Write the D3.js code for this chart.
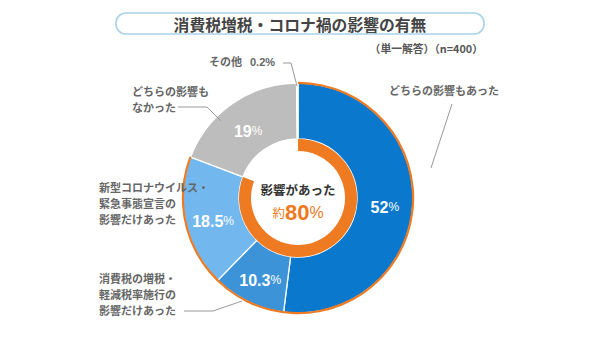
<!DOCTYPE html>
<html><head><meta charset="utf-8">
<script src="https://cdn.jsdelivr.net/npm/d3@7"></script>
<style>body{margin:0;background:#fff}svg{display:block;font-family:"Noto Sans CJK JP","Noto Sans",sans-serif}</style>
</head><body>
<svg id="c" width="600" height="343"></svg>
<script>
const title = "消費税増税・コロナ禍の影響の有無";
const note = "（単一解答）（n=400）";
const categories = ["どちらの影響もあった","消費税の増税・軽減税率施行の影響だけあった","新型コロナウイルス・緊急事態宣言の影響だけあった","どちらの影響もなかった","その他"];
const values = [52, 10.3, 18.5, 19, 0.2];
const valueLabels = ["52","10.3","18.5","19",""];
const centerLabel = "影響があった";
const centerValue = "80";
const colors = ["#0a78cc","#3d93d8","#72b8ef","#bdbdbd","#e4e4e4"];
const affected = [true,true,true,false,false];

const NUMF = "'Liberation Sans', Arial, sans-serif";
const svg = d3.select("#c");
const cx = 298, cy = 198, R = 115, r0 = 59;

// title box
svg.append("rect").attr("x",116).attr("y",13).attr("width",368).attr("height",21).attr("rx",10)
  .attr("fill","#fff").attr("stroke","#a9d3ec").attr("stroke-width",1.6);
svg.append("text").attr("x",300).attr("y",24).attr("text-anchor","middle").attr("dominant-baseline","central")
  .attr("font-size",15.8).attr("font-weight","bold").attr("fill","#444").text(title);
svg.append("text").attr("x",483).attr("y",48).attr("text-anchor","end").attr("dominant-baseline","central")
  .attr("font-size",10.8).attr("font-weight","bold").attr("fill","#555").text(note);

const pie = d3.pie().sort(null).value(d=>d)(values);
const g = svg.append("g").attr("transform",`translate(${cx},${cy})`);
const arc = d3.arc().innerRadius(r0).outerRadius(R);
g.selectAll("path.s").data(pie).join("path").attr("class","s").attr("d",arc)
  .attr("fill",(d,i)=>colors[i]).attr("stroke","#fff").attr("stroke-width",1.3);

// orange outer stroke and inner ring over "affected" share
const affEnd = d3.max(pie.filter((d,i)=>affected[i]), d=>d.endAngle);
g.append("path").attr("d", d3.arc().innerRadius(R-1).outerRadius(R+1.2).startAngle(0).endAngle(affEnd)())
  .attr("fill","#ee7a22");
g.append("path").attr("d", d3.arc().innerRadius(47).outerRadius(r0).startAngle(0).endAngle(affEnd)())
  .attr("fill","#ee7a22");

// value labels
const cArc = d3.arc().innerRadius(87).outerRadius(87);
pie.forEach((d,i)=>{
  if(!valueLabels[i]) return;
  const [x,y] = cArc.centroid(d);
  const t = g.append("text").attr("x",x).attr("y",y+4).attr("text-anchor","middle").attr("dominant-baseline","central")
    .attr("fill","#fff").attr("font-weight","bold").style("font-family",NUMF);
  t.append("tspan").attr("font-size",16).text(valueLabels[i]);
  t.append("tspan").attr("font-size",12).attr("font-weight","normal").text("%");
});

// center
g.append("text").attr("x",0).attr("y",-9).attr("text-anchor","middle").attr("dominant-baseline","central")
  .attr("font-size",12.5).attr("font-weight","bold").attr("fill","#333").text(centerLabel);
const ct = g.append("text").attr("x",0).attr("y",14).attr("text-anchor","middle").attr("dominant-baseline","central")
  .attr("fill","#ee7a22").attr("font-weight","bold");
ct.append("tspan").attr("font-size",12.5).attr("font-weight","normal").text("約");
ct.append("tspan").attr("font-size",22).style("font-family",NUMF).text(centerValue);
ct.append("tspan").attr("font-size",16).style("font-family",NUMF).attr("font-weight","normal").text("%");

// outside labels
const lab = (lines, x, y, anchor) => {
  const t = svg.append("text").attr("font-size",11).attr("font-weight","bold").attr("fill","#666").attr("text-anchor",anchor||"start");
  lines.forEach((s,k)=>t.append("tspan").attr("x",x).attr("y",y+k*16).text(s));
};
lab([categories[0]], 389, 95);
lab(["どちらの影響も","なかった"], 132, 96);
lab(["新型コロナウイルス・","緊急事態宣言の","影響だけあった"], 99, 192);
lab(["消費税の増税・","軽減税率施行の","影響だけあった"], 99, 283);
const o = svg.append("text").attr("x",209).attr("y",66).attr("font-size",11).attr("font-weight","bold").attr("fill","#666");
o.append("tspan").text(categories[4]);
o.append("tspan").attr("x",250).style("font-family",NUMF).text(values[4] + "%");

const line = d3.line();
const leaders = [
  [[452,104],[431,168]],
  [[178,107],[207,107],[221,121]],
  [[184,311],[213,311],[242,301]],
  [[283,63],[291,63],[297,86]]
];
leaders.forEach(p=>svg.append("path").attr("d",line(p)).attr("fill","none").attr("stroke","#999").attr("stroke-width",1));
</script>
</body></html>
